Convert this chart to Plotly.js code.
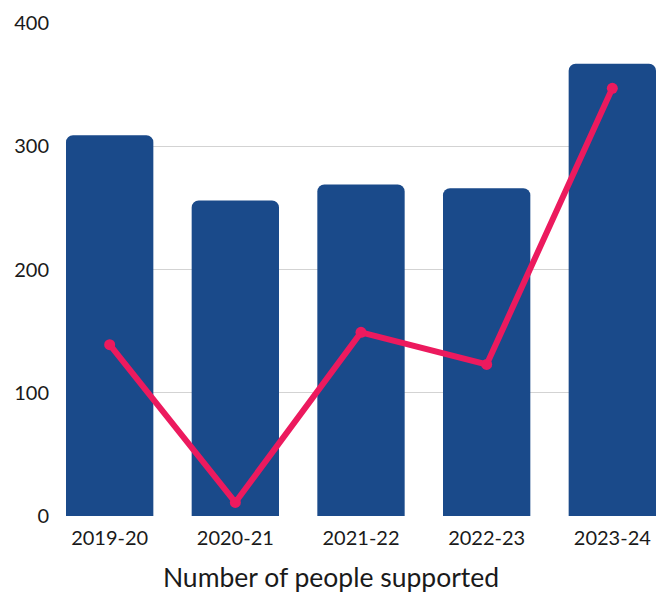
<!DOCTYPE html>
<html>
<head>
<meta charset="utf-8">
<script src="https://cdn.plot.ly/plotly-3.0.1.min.js"></script>
<style>html,body{margin:0;padding:0;background:#fff;}#chart{width:662px;height:592px;}</style>
</head>
<body>
<div id="chart"></div>
<script>
const categories = ["2019-20", "2020-21", "2021-22", "2022-23", "2023-24"];
const barValues = [309, 256, 269, 266, 367];
const lineValues = [139, 11, 149, 123, 347];
const yTicks = [0, 100, 200, 300, 400];
const axisTitle = "Number of people supported";

const traces = [
  {
    type: "bar",
    x: categories,
    y: barValues,
    marker: {color: "#1a4a8a", cornerradius: 7},
    width: 0.695,
    hoverinfo: "x+y",
    showlegend: false
  },
  {
    type: "scatter",
    mode: "lines+markers",
    x: categories,
    y: lineValues,
    line: {color: "#ec1a5e", width: 6},
    marker: {color: "#ec1a5e", size: 11},
    showlegend: false
  }
];

const layout = {
  width: 662,
  height: 592,
  margin: {l: 66, r: 6, t: 23, b: 76},
  paper_bgcolor: "#ffffff",
  plot_bgcolor: "#ffffff",
  font: {family: "Lato, 'Open Sans', sans-serif", color: "#1a1a1a"},
  title: {
    text: axisTitle,
    font: {size: 26.5, color: "#1a1a1a"},
    x: 0.5, xref: "container", xanchor: "center",
    y: 0.024, yref: "container", yanchor: "middle"
  },
  xaxis: {
    type: "category",
    range: [-0.3475, 4.3475],
    showgrid: false,
    showline: false,
    zeroline: false,
    ticks: "",
    ticklabelstandoff: 8,
    tickfont: {size: 20, color: "#1a1a1a"}
  },
  yaxis: {
    range: [0, 400],
    tickvals: yTicks,
    ticktext: yTicks.map(String),
    showgrid: true,
    gridcolor: "#d3d3d3",
    gridwidth: 1,
    zeroline: false,
    showline: false,
    ticks: "",
    ticklabelstandoff: 16,
    tickfont: {size: 20, color: "#1a1a1a"}
  },
  bargap: 0.3
};

Plotly.newPlot("chart", traces, layout, {displayModeBar: false, staticPlot: true});
</script>
</body>
</html>
